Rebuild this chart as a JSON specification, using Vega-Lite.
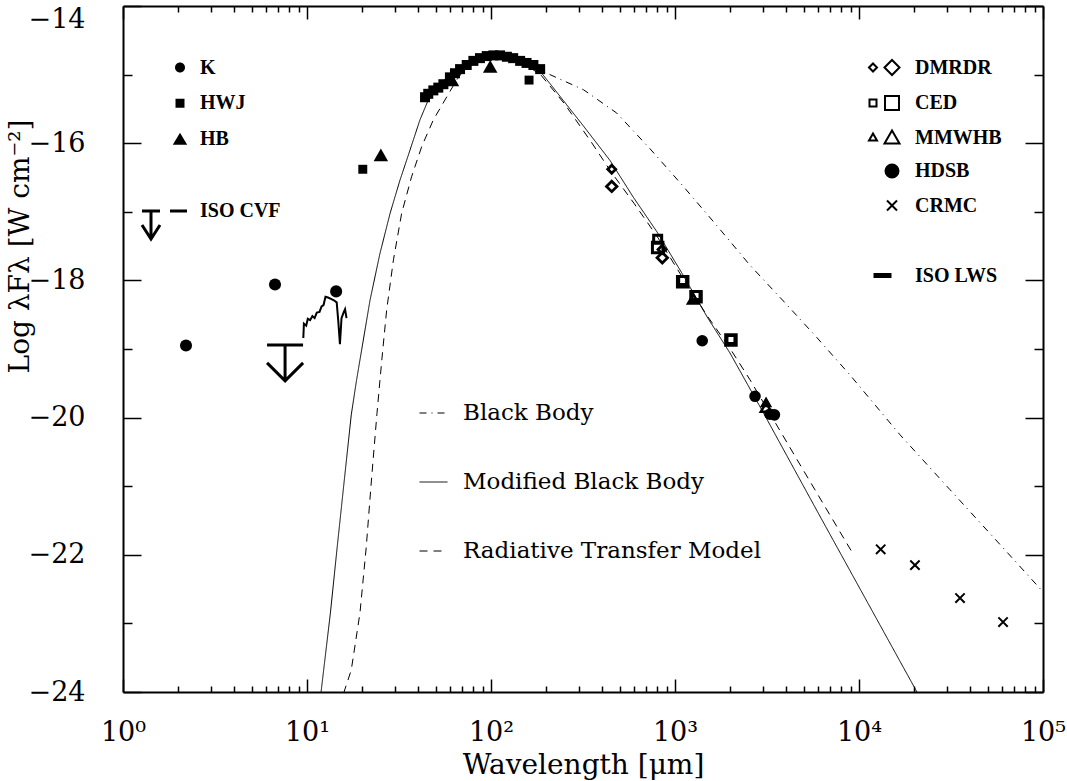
{
  "$schema": "https://vega.github.io/schema/vega-lite/v6.json",
  "width": 920,
  "height": 686,
  "autosize": {"type": "none"},
  "padding": {"left": 123, "top": 6, "right": 24, "bottom": 89},
  "background": "white",
  "config": {
    "view": {"stroke": null},
    "axis": {
      "domainColor": "black", "domainWidth": 2, "tickColor": "black", "tickWidth": 1.5,
      "labelColor": "black", "titleColor": "black", "labelFont": "DejaVu Serif", "labelFontSize": 27,
      "titleFont": "DejaVu Serif", "titleFontSize": 28, "titleFontWeight": "normal", "grid": false,
      "labelFlush": false, "labelOverlap": false
    },
    "legend": {"labelColor": "black", "padding": 0, "labelLimit": 500}
  },
  "datasets": {
    "models": [
      {"lam": 11.9, "flux": -24.02, "model": "Modified Black Body"},
      {"lam": 13.4, "flux": -22.85, "model": "Modified Black Body"},
      {"lam": 14.6, "flux": -21.88, "model": "Modified Black Body"},
      {"lam": 15.95, "flux": -20.91, "model": "Modified Black Body"},
      {"lam": 17.4, "flux": -19.96, "model": "Modified Black Body"},
      {"lam": 18.6, "flux": -19.45, "model": "Modified Black Body"},
      {"lam": 19.4, "flux": -19.16, "model": "Modified Black Body"},
      {"lam": 22.0, "flux": -18.29, "model": "Modified Black Body"},
      {"lam": 24.9, "flux": -17.61, "model": "Modified Black Body"},
      {"lam": 28.3, "flux": -17.02, "model": "Modified Black Body"},
      {"lam": 32.0, "flux": -16.54, "model": "Modified Black Body"},
      {"lam": 36.3, "flux": -16.10, "model": "Modified Black Body"},
      {"lam": 41.1, "flux": -15.66, "model": "Modified Black Body"},
      {"lam": 45.6, "flux": -15.37, "model": "Modified Black Body"},
      {"lam": 52, "flux": -15.15, "model": "Modified Black Body"},
      {"lam": 60, "flux": -15.0, "model": "Modified Black Body"},
      {"lam": 70, "flux": -14.86, "model": "Modified Black Body"},
      {"lam": 82, "flux": -14.77, "model": "Modified Black Body"},
      {"lam": 95, "flux": -14.72, "model": "Modified Black Body"},
      {"lam": 110, "flux": -14.71, "model": "Modified Black Body"},
      {"lam": 130, "flux": -14.75, "model": "Modified Black Body"},
      {"lam": 155, "flux": -14.84, "model": "Modified Black Body"},
      {"lam": 186, "flux": -14.96, "model": "Modified Black Body"},
      {"lam": 209, "flux": -15.13, "model": "Modified Black Body"},
      {"lam": 316, "flux": -15.74, "model": "Modified Black Body"},
      {"lam": 443, "flux": -16.25, "model": "Modified Black Body"},
      {"lam": 591, "flux": -16.78, "model": "Modified Black Body"},
      {"lam": 797, "flux": -17.29, "model": "Modified Black Body"},
      {"lam": 1105, "flux": -17.92, "model": "Modified Black Body"},
      {"lam": 1493, "flux": -18.53, "model": "Modified Black Body"},
      {"lam": 1991, "flux": -19.06, "model": "Modified Black Body"},
      {"lam": 3008, "flux": -19.92, "model": "Modified Black Body"},
      {"lam": 5915, "flux": -21.36, "model": "Modified Black Body"},
      {"lam": 11050, "flux": -22.68, "model": "Modified Black Body"},
      {"lam": 20650, "flux": -24.0, "model": "Modified Black Body"},
      {"lam": 170, "flux": -14.88, "model": "Black Body"},
      {"lam": 209, "flux": -15.0, "model": "Black Body"},
      {"lam": 318, "flux": -15.22, "model": "Black Body"},
      {"lam": 482, "flux": -15.56, "model": "Black Body"},
      {"lam": 731, "flux": -16.08, "model": "Black Body"},
      {"lam": 1110, "flux": -16.63, "model": "Black Body"},
      {"lam": 1686, "flux": -17.2, "model": "Black Body"},
      {"lam": 2558, "flux": -17.78, "model": "Black Body"},
      {"lam": 3880, "flux": -18.3, "model": "Black Body"},
      {"lam": 5890, "flux": -18.83, "model": "Black Body"},
      {"lam": 8940, "flux": -19.38, "model": "Black Body"},
      {"lam": 16700, "flux": -20.25, "model": "Black Body"},
      {"lam": 31200, "flux": -21.05, "model": "Black Body"},
      {"lam": 58400, "flux": -21.85, "model": "Black Body"},
      {"lam": 100000, "flux": -22.54, "model": "Black Body"},
      {"lam": 15.8, "flux": -24.02, "model": "Radiative Transfer Model"},
      {"lam": 17.4, "flux": -23.68, "model": "Radiative Transfer Model"},
      {"lam": 19.4, "flux": -22.85, "model": "Radiative Transfer Model"},
      {"lam": 21.0, "flux": -21.88, "model": "Radiative Transfer Model"},
      {"lam": 22.4, "flux": -20.91, "model": "Radiative Transfer Model"},
      {"lam": 24.0, "flux": -19.94, "model": "Radiative Transfer Model"},
      {"lam": 25.5, "flux": -19.16, "model": "Radiative Transfer Model"},
      {"lam": 27.1, "flux": -18.43, "model": "Radiative Transfer Model"},
      {"lam": 29.5, "flux": -17.70, "model": "Radiative Transfer Model"},
      {"lam": 32.7, "flux": -17.02, "model": "Radiative Transfer Model"},
      {"lam": 37.0, "flux": -16.49, "model": "Radiative Transfer Model"},
      {"lam": 42.0, "flux": -16.05, "model": "Radiative Transfer Model"},
      {"lam": 48.6, "flux": -15.66, "model": "Radiative Transfer Model"},
      {"lam": 56.2, "flux": -15.37, "model": "Radiative Transfer Model"},
      {"lam": 65.0, "flux": -15.08, "model": "Radiative Transfer Model"},
      {"lam": 73.8, "flux": -14.88, "model": "Radiative Transfer Model"},
      {"lam": 88, "flux": -14.76, "model": "Radiative Transfer Model"},
      {"lam": 105, "flux": -14.72, "model": "Radiative Transfer Model"},
      {"lam": 125, "flux": -14.75, "model": "Radiative Transfer Model"},
      {"lam": 150, "flux": -14.84, "model": "Radiative Transfer Model"},
      {"lam": 186, "flux": -15.0, "model": "Radiative Transfer Model"},
      {"lam": 250, "flux": -15.42, "model": "Radiative Transfer Model"},
      {"lam": 350, "flux": -15.98, "model": "Radiative Transfer Model"},
      {"lam": 450, "flux": -16.42, "model": "Radiative Transfer Model"},
      {"lam": 600, "flux": -16.88, "model": "Radiative Transfer Model"},
      {"lam": 800, "flux": -17.36, "model": "Radiative Transfer Model"},
      {"lam": 1100, "flux": -17.96, "model": "Radiative Transfer Model"},
      {"lam": 1500, "flux": -18.52, "model": "Radiative Transfer Model"},
      {"lam": 2000, "flux": -19.0, "model": "Radiative Transfer Model"},
      {"lam": 2558, "flux": -19.45, "model": "Radiative Transfer Model"},
      {"lam": 4840, "flux": -20.71, "model": "Radiative Transfer Model"},
      {"lam": 9160, "flux": -21.96, "model": "Radiative Transfer Model"}
    ],
    "lws": [
      {"lam": 43.8, "flux": -15.33, "series": "ISO LWS"},
      {"lam": 45.6, "flux": -15.28, "series": "ISO LWS"},
      {"lam": 48.6, "flux": -15.23, "series": "ISO LWS"},
      {"lam": 51.7, "flux": -15.19, "series": "ISO LWS"},
      {"lam": 55.1, "flux": -15.14, "series": "ISO LWS"},
      {"lam": 59.8, "flux": -15.04, "series": "ISO LWS"},
      {"lam": 63.7, "flux": -14.98, "series": "ISO LWS"},
      {"lam": 67.9, "flux": -14.92, "series": "ISO LWS"},
      {"lam": 73.8, "flux": -14.86, "series": "ISO LWS"},
      {"lam": 80.2, "flux": -14.80, "series": "ISO LWS"},
      {"lam": 87.1, "flux": -14.76, "series": "ISO LWS"},
      {"lam": 94.8, "flux": -14.73, "series": "ISO LWS"},
      {"lam": 103, "flux": -14.72, "series": "ISO LWS"},
      {"lam": 112, "flux": -14.72, "series": "ISO LWS"},
      {"lam": 122, "flux": -14.74, "series": "ISO LWS"},
      {"lam": 132, "flux": -14.76, "series": "ISO LWS"},
      {"lam": 144, "flux": -14.80, "series": "ISO LWS"},
      {"lam": 156, "flux": -14.83, "series": "ISO LWS"},
      {"lam": 170, "flux": -14.86, "series": "ISO LWS"},
      {"lam": 185, "flux": -14.92, "series": "ISO LWS"}
    ],
    "cvf": [
      {"lam": 9.55, "flux": -18.84},
      {"lam": 9.62, "flux": -18.63},
      {"lam": 9.9, "flux": -18.66},
      {"lam": 10.1, "flux": -18.56},
      {"lam": 10.4, "flux": -18.58},
      {"lam": 10.7, "flux": -18.52},
      {"lam": 11.0, "flux": -18.55},
      {"lam": 11.3, "flux": -18.47},
      {"lam": 11.7, "flux": -18.46},
      {"lam": 12.0, "flux": -18.38},
      {"lam": 12.3, "flux": -18.36},
      {"lam": 12.6, "flux": -18.24},
      {"lam": 13.0, "flux": -18.25},
      {"lam": 13.5, "flux": -18.27},
      {"lam": 14.0, "flux": -18.29},
      {"lam": 14.5, "flux": -18.32},
      {"lam": 14.8, "flux": -18.6},
      {"lam": 15.1, "flux": -18.93},
      {"lam": 15.4, "flux": -18.55},
      {"lam": 15.8, "flux": -18.47},
      {"lam": 16.1, "flux": -18.42},
      {"lam": 16.4, "flux": -18.55}
    ],
    "cvful": [
      {"lam": 7.6, "flux": -18.94, "series": "ISO CVF"}
    ],
    "left": [
      {"lam": 2.2, "flux": -18.95, "series": "K"},
      {"lam": 6.7, "flux": -18.06, "series": "K"},
      {"lam": 14.4, "flux": -18.16, "series": "K"},
      {"lam": 20.1, "flux": -16.38, "series": "HWJ"},
      {"lam": 161, "flux": -15.08, "series": "HWJ"},
      {"lam": 25.2, "flux": -16.17, "series": "HB"},
      {"lam": 61.4, "flux": -15.08, "series": "HB"},
      {"lam": 99, "flux": -14.88, "series": "HB"}
    ],
    "right": [
      {"lam": 453, "flux": -16.38, "series": "DMRDR", "beam": "small"},
      {"lam": 453, "flux": -16.63, "series": "DMRDR", "beam": "large"},
      {"lam": 850, "flux": -17.55, "series": "DMRDR", "beam": "small"},
      {"lam": 853, "flux": -17.67, "series": "DMRDR", "beam": "large"},
      {"lam": 805, "flux": -17.40, "series": "CED", "beam": "small"},
      {"lam": 805, "flux": -17.52, "series": "CED", "beam": "large"},
      {"lam": 1101, "flux": -18.0, "series": "CED", "beam": "small"},
      {"lam": 1101, "flux": -18.02, "series": "CED", "beam": "large"},
      {"lam": 1301, "flux": -18.22, "series": "CED", "beam": "small"},
      {"lam": 1301, "flux": -18.24, "series": "CED", "beam": "large"},
      {"lam": 2014, "flux": -18.86, "series": "CED", "beam": "small"},
      {"lam": 2014, "flux": -18.87, "series": "CED", "beam": "large"},
      {"lam": 1257, "flux": -18.27, "series": "MMWHB", "beam": "large"},
      {"lam": 3125, "flux": -19.78, "series": "MMWHB", "beam": "small"},
      {"lam": 3125, "flux": -19.85, "series": "MMWHB", "beam": "large"},
      {"lam": 1406, "flux": -18.88, "series": "HDSB", "beam": "mid"},
      {"lam": 2722, "flux": -19.69, "series": "HDSB", "beam": "mid"},
      {"lam": 3280, "flux": -19.95, "series": "HDSB", "beam": "mid"},
      {"lam": 3470, "flux": -19.96, "series": "HDSB", "beam": "mid"},
      {"lam": 13120, "flux": -21.92, "series": "CRMC", "beam": "mid"},
      {"lam": 20140, "flux": -22.15, "series": "CRMC", "beam": "mid"},
      {"lam": 35400, "flux": -22.63, "series": "CRMC", "beam": "mid"},
      {"lam": 60650, "flux": -22.98, "series": "CRMC", "beam": "mid"}
    ]
  },
  "layer": [
    {
      "data": {"name": "models"},
      "mark": {"type": "line", "stroke": "black", "strokeWidth": 1, "clip": true},
      "encoding": {
        "x": {
          "field": "lam", "type": "quantitative",
          "scale": {"type": "log", "domain": [1, 100000], "nice": false},
          "axis": {
            "orient": "bottom",
            "values": [1,2,3,4,5,6,7,8,9,10,20,30,40,50,60,70,80,90,100,200,300,400,500,600,700,800,900,1000,2000,3000,4000,5000,6000,7000,8000,9000,10000,20000,30000,40000,50000,60000,70000,80000,90000,100000],
            "tickSize": {"condition": {"test": "abs(log(datum.value)/LN10 - round(log(datum.value)/LN10)) < 0.001", "value": -13}, "value": -6},
            "labelExpr": "abs(log(datum.value)/LN10 - round(log(datum.value)/LN10)) < 0.001 ? '10' + ['⁰','¹','²','³','⁴','⁵'][round(log(datum.value)/LN10)] : ''",
            "labelPadding": 40, "labelBaseline": "top",
            "title": "Wavelength [μm]", "titleX": 460, "titleY": 73, "titleBaseline": "middle", "titleAlign": "center"
          }
        },
        "y": {
          "field": "flux", "type": "quantitative",
          "scale": {"domain": [-24, -14], "nice": false, "zero": false},
          "axis": {
            "orient": "left",
            "values": [-24,-23,-22,-21,-20,-19,-18,-17,-16,-15,-14],
            "tickSize": {"condition": {"test": "datum.value % 2 === 0", "value": -18}, "value": -9},
            "labelExpr": "datum.value % 2 === 0 ? format(datum.value, 'd') : ''",
            "labelPadding": 56, "labelAlign": "right",
            "labelBaseline": {"condition": {"test": "datum.value === -14", "value": "top"}, "value": "middle"},
            "title": "Log λFλ [W cm⁻²]", "titleX": -103, "titleY": 240, "titleAngle": -90,
            "titleAlign": "center", "titleBaseline": "middle"
          }
        },
        "strokeDash": {
          "field": "model", "type": "nominal",
          "scale": {"domain": ["Black Body", "Modified Black Body", "Radiative Transfer Model"], "range": [[7,5,1,5],[1,0],[8,6]]},
          "legend": {
            "orient": "none", "legendX": 296, "legendY": 392.5, "title": null,
            "direction": "vertical", "columns": 1,
            "symbolType": "stroke", "symbolSize": 784, "symbolStrokeWidth": 1, "symbolStrokeColor": "black",
            "labelFont": "DejaVu Serif", "labelFontSize": 23, "labelOffset": 15, "rowPadding": 42
          }
        }
      }
    },
    {
      "data": {"name": "lws"},
      "mark": {"type": "point", "filled": true, "color": "black", "size": 100, "shape": "square"},
      "encoding": {
        "x": {
          "field": "lam", "type": "quantitative",
          "scale": {"type": "log", "domain": [1, 100000], "nice": false},
          "axis": {
            "orient": "top",
            "values": [1,2,3,4,5,6,7,8,9,10,20,30,40,50,60,70,80,90,100,200,300,400,500,600,700,800,900,1000,2000,3000,4000,5000,6000,7000,8000,9000,10000,20000,30000,40000,50000,60000,70000,80000,90000,100000],
            "tickSize": {"condition": {"test": "abs(log(datum.value)/LN10 - round(log(datum.value)/LN10)) < 0.001", "value": -13}, "value": -6},
            "labels": false, "title": null
          }
        },
        "y": {
          "field": "flux", "type": "quantitative",
          "scale": {"domain": [-24, -14], "nice": false, "zero": false},
          "axis": {
            "orient": "right",
            "values": [-24,-23,-22,-21,-20,-19,-18,-17,-16,-15,-14],
            "tickSize": {"condition": {"test": "datum.value % 2 === 0", "value": -18}, "value": -9},
            "labels": false, "title": null
          }
        },
        "opacity": {
          "field": "series", "type": "ordinal",
          "scale": {"domain": ["ISO LWS"], "range": [1]},
          "legend": {
            "orient": "none", "legendX": 748.5, "legendY": 258.5, "title": null,
            "direction": "vertical", "columns": 1, "symbolSize": 400, "symbolStrokeWidth": 2,
            "labelFont": "Liberation Serif", "labelFontWeight": "bold", "labelFontSize": 20, "labelOffset": 21.5,
            "encoding": {"symbols": {"shape": {"value": "M-0.9,-0.25H0.9V0.25H-0.9Z"}, "fill": {"value": "black"}, "fillOpacity": {"value": 1}, "stroke": {"value": "transparent"}}}
          }
        }
      }
    },
    {
      "data": {"name": "cvf"},
      "mark": {"type": "line", "stroke": "black", "strokeWidth": 2},
      "encoding": {
        "x": {"field": "lam", "type": "quantitative", "scale": {"type": "log", "domain": [1, 100000], "nice": false}, "axis": null},
        "y": {"field": "flux", "type": "quantitative", "scale": {"domain": [-24, -14], "nice": false, "zero": false}, "axis": null}
      }
    },
    {
      "data": {"name": "cvful"},
      "mark": {"type": "point", "filled": false, "stroke": "black", "strokeWidth": 3, "size": 1296, "shape": "M-1,0H1M0,0V2M-1,1L0,2L1,1"},
      "encoding": {
        "x": {"field": "lam", "type": "quantitative", "scale": {"type": "log", "domain": [1, 100000], "nice": false}, "axis": null},
        "y": {"field": "flux", "type": "quantitative", "scale": {"domain": [-24, -14], "nice": false, "zero": false}, "axis": null},
        "opacity": {
          "field": "series", "type": "ordinal",
          "scale": {"domain": ["ISO CVF"], "range": [1]},
          "legend": {
            "orient": "none", "legendX": 45.5, "legendY": 193.5, "title": null,
            "direction": "vertical", "columns": 1, "symbolSize": 400, "symbolStrokeWidth": 3,
            "labelFont": "Liberation Serif", "labelFontWeight": "bold", "labelFontSize": 20, "labelOffset": 8.5,
            "encoding": {"symbols": {"shape": {"value": "M-3.8,0H-2.0M-2.9,0V2.8M-3.8,1.4L-2.9,2.8L-2.0,1.4M-1.0,0H0.7"}, "fill": {"value": "transparent"}, "stroke": {"value": "black"}, "strokeOpacity": {"value": 1}}}
          }
        }
      }
    },
    {
      "data": {"name": "left"},
      "mark": {"type": "point", "filled": true, "color": "black"},
      "encoding": {
        "x": {"field": "lam", "type": "quantitative", "scale": {"type": "log", "domain": [1, 100000], "nice": false}, "axis": null},
        "y": {"field": "flux", "type": "quantitative", "scale": {"domain": [-24, -14], "nice": false, "zero": false}, "axis": null},
        "shape": {
          "field": "series", "type": "nominal",
          "scale": {"domain": ["HB", "HWJ", "K"], "range": ["triangle-up", "square", "circle"]},
          "legend": null
        },
        "size": {
          "field": "series", "type": "ordinal",
          "scale": {"domain": ["HB", "K", "HWJ"], "range": [210, 80, 95]},
          "legend": null
        },
        "opacity": {
          "field": "series", "type": "ordinal",
          "scale": {"domain": ["K", "HWJ", "HB"], "range": [1, 1, 1]},
          "legend": {
            "orient": "none", "legendX": 46, "legendY": 50.5, "title": null,
            "direction": "vertical", "columns": 1, "symbolSize": 400, "symbolStrokeWidth": 2, "rowPadding": 14.75,
            "labelFont": "Liberation Serif", "labelFontWeight": "bold", "labelFontSize": 20, "labelOffset": 9,
            "encoding": {"symbols": {
              "shape": {"condition": [
                {"test": "datum.value === 'K'", "value": "M0.5,0A0.5,0.5 0 1,1 -0.5,0A0.5,0.5 0 1,1 0.5,0Z"},
                {"test": "datum.value === 'HWJ'", "value": "M-0.45,-0.45H0.45V0.45H-0.45Z"}
              ], "value": "M0,-0.62L0.72,0.58H-0.72Z"},
              "fill": {"value": "black"}, "fillOpacity": {"value": 1}, "stroke": {"value": "transparent"}}}
          }
        }
      }
    },
    {
      "data": {"name": "right"},
      "mark": {"type": "point", "stroke": "black"},
      "encoding": {
        "x": {"field": "lam", "type": "quantitative", "scale": {"type": "log", "domain": [1, 100000], "nice": false}, "axis": null},
        "y": {"field": "flux", "type": "quantitative", "scale": {"domain": [-24, -14], "nice": false, "zero": false}, "axis": null},
        "shape": {
          "field": "series", "type": "nominal",
          "scale": {"domain": ["CRMC", "HDSB", "MMWHB", "CED", "DMRDR"], "range": ["M-1,-1L1,1M-1,1L1,-1", "circle", "triangle-up", "square", "diamond"]},
          "legend": null
        },
        "fill": {
          "field": "series", "type": "nominal",
          "scale": {"domain": ["HDSB", "DMRDR", "CED", "MMWHB", "CRMC"], "range": ["black", "transparent", "transparent", "transparent", "transparent"]},
          "legend": null
        },
        "strokeWidth": {
          "field": "series", "type": "ordinal",
          "scale": {"domain": ["CED", "DMRDR", "MMWHB", "HDSB", "CRMC"], "range": [3, 2, 2, 1, 2.5]},
          "legend": null
        },
        "size": {
          "field": "beam", "type": "ordinal",
          "scale": {"domain": ["small", "mid", "large"], "range": [64, 110, 210]},
          "legend": null
        },
        "opacity": {
          "field": "series", "type": "ordinal",
          "scale": {"domain": ["DMRDR", "CED", "MMWHB", "HDSB", "CRMC"], "range": [1, 1, 1, 1, 1]},
          "legend": {
            "orient": "none", "legendX": 748.5, "legendY": 50.5, "title": null,
            "direction": "vertical", "columns": 1, "symbolSize": 400, "symbolStrokeWidth": 2, "rowPadding": 12.5,
            "labelFont": "Liberation Serif", "labelFontWeight": "bold", "labelFontSize": 20, "labelOffset": 21.5,
            "encoding": {"symbols": {
              "shape": {"condition": [
                {"test": "datum.value === 'DMRDR'", "value": "M-1.35,0L-0.95,-0.4L-0.55,0L-0.95,0.4Z M0.2,0L0.95,-0.75L1.7,0L0.95,0.75Z"},
                {"test": "datum.value === 'CED'", "value": "M-1.3,-0.35H-0.6V0.35H-1.3Z M0.25,-0.7H1.65V0.7H0.25Z"},
                {"test": "datum.value === 'MMWHB'", "value": "M-0.95,-0.4L-0.55,0.3H-1.35Z M0.95,-0.7L1.7,0.6H0.2Z"},
                {"test": "datum.value === 'HDSB'", "value": "M1.6,0A0.65,0.65 0 1,1 0.3,0A0.65,0.65 0 1,1 1.6,0Z"}
              ], "value": "M0.45,-0.5L1.45,0.5M0.45,0.5L1.45,-0.5"},
              "fill": {"condition": {"test": "datum.value === 'HDSB'", "value": "black"}, "value": "transparent"},
              "fillOpacity": {"value": 1},
              "stroke": {"value": "black"}, "strokeOpacity": {"value": 1}}}
          }
        }
      }
    }
  ],
  "resolve": {
    "scale": {"shape": "independent", "size": "independent", "fill": "independent", "strokeWidth": "independent", "strokeDash": "independent", "opacity": "independent"},
    "legend": {"opacity": "independent", "strokeDash": "independent"},
    "axis": {"x": "independent", "y": "independent"}
  }
}
